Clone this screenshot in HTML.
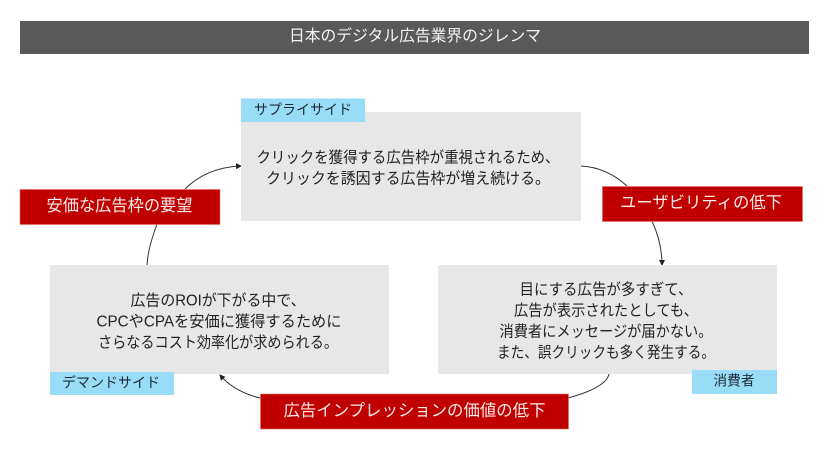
<!DOCTYPE html>
<html lang="ja"><head><meta charset="utf-8"><style>
html,body{margin:0;padding:0;background:#fff;width:840px;height:473px;overflow:hidden}
svg{display:block}
text{font-family:"Liberation Sans","Noto Sans CJK JP",sans-serif;text-anchor:middle}
.m{font-size:15.5px;fill:#222}
.b{font-size:14px;fill:#1c2b33}
.r{font-size:16.5px;fill:#fbeaea}
</style></head><body>
<svg width="840" height="473" viewBox="0 0 840 473" xmlns="http://www.w3.org/2000/svg">
<defs><marker id="a" markerWidth="6" markerHeight="6" refX="5" refY="3" orient="auto" markerUnits="userSpaceOnUse"><path d="M0 0L6 3L0 6z" fill="#222"/></marker></defs>
<rect x="20" y="21" width="789" height="33" fill="#595959"/>
<text x="415" y="41" font-size="16" fill="#f2f2f2" textLength="252" lengthAdjust="spacingAndGlyphs">日本のデジタル広告業界のジレンマ</text>

<g fill="none" stroke="#333" stroke-width="1">
<path d="M147 265C148 250 152 238 157 224"/>
<path d="M185 189C198 176 216 167 241 166" marker-end="url(#a)"/>
<path d="M581 166C600 167 615 175 627 186"/>
<path d="M652 221C658 234 662 248 662 265" marker-end="url(#a)"/>
<path d="M609 374C607 384 590 392 568 398"/>
<path d="M260 398C244 394 230 387 220 375" marker-end="url(#a)"/>
</g>

<rect x="241" y="112" width="340" height="109" fill="#e7e7e7"/>
<rect x="241" y="98.5" width="124" height="23.5" fill="#99dcf7"/>
<rect x="50" y="265" width="339" height="109" fill="#e7e7e7"/>
<rect x="50" y="372" width="124" height="23" fill="#99dcf7"/>
<rect x="438" y="265" width="339" height="109" fill="#e7e7e7"/>
<rect x="692" y="370" width="85" height="24" fill="#99dcf7"/>

<g fill="#c00000" stroke="#e8705f" stroke-width=".6">
<rect x="20" y="189.5" width="200" height="35"/>
<rect x="602.5" y="186.5" width="200" height="35"/>
<rect x="260.5" y="394" width="308" height="35"/>
</g>

<text class="b" x="303" y="114.5" textLength="98" lengthAdjust="spacingAndGlyphs">サプライサイド</text>
<text class="b" x="111" y="387.5" textLength="98" lengthAdjust="spacingAndGlyphs">デマンドサイド</text>
<text class="b" x="734" y="385.5" textLength="41" lengthAdjust="spacingAndGlyphs">消費者</text>

<text class="r" x="119.5" y="211" textLength="146" lengthAdjust="spacingAndGlyphs">安価な広告枠の要望</text>
<text class="r" x="701" y="208" textLength="162" lengthAdjust="spacingAndGlyphs">ユーザビリティの低下</text>
<text class="r" x="414.5" y="416" textLength="262" lengthAdjust="spacingAndGlyphs">広告インプレッションの価値の低下</text>

<text class="m" x="408" y="162.5" textLength="303" lengthAdjust="spacingAndGlyphs">クリックを獲得する広告枠が重視されるため、</text>
<text class="m" x="408" y="183.5" textLength="284" lengthAdjust="spacingAndGlyphs">クリックを誘因する広告枠が増え続ける。</text>

<text class="m" x="218" y="305.5" textLength="175" lengthAdjust="spacingAndGlyphs">広告のROIが下がる中で、</text>
<text class="m" x="219" y="326.5" textLength="245" lengthAdjust="spacingAndGlyphs">CPCやCPAを安価に獲得するために</text>
<text class="m" x="218" y="347.5" textLength="240" lengthAdjust="spacingAndGlyphs">さらなるコスト効率化が求められる。</text>

<text class="m" x="606" y="294.5" textLength="173" lengthAdjust="spacingAndGlyphs">目にする広告が多すぎて、</text>
<text class="m" x="606" y="315.5" textLength="184" lengthAdjust="spacingAndGlyphs">広告が表示されたとしても、</text>
<text class="m" x="606" y="336.5" textLength="213" lengthAdjust="spacingAndGlyphs">消費者にメッセージが届かない。</text>
<text class="m" x="606" y="357.5" textLength="218" lengthAdjust="spacingAndGlyphs">また、誤クリックも多く発生する。</text>
</svg>
</body></html>
